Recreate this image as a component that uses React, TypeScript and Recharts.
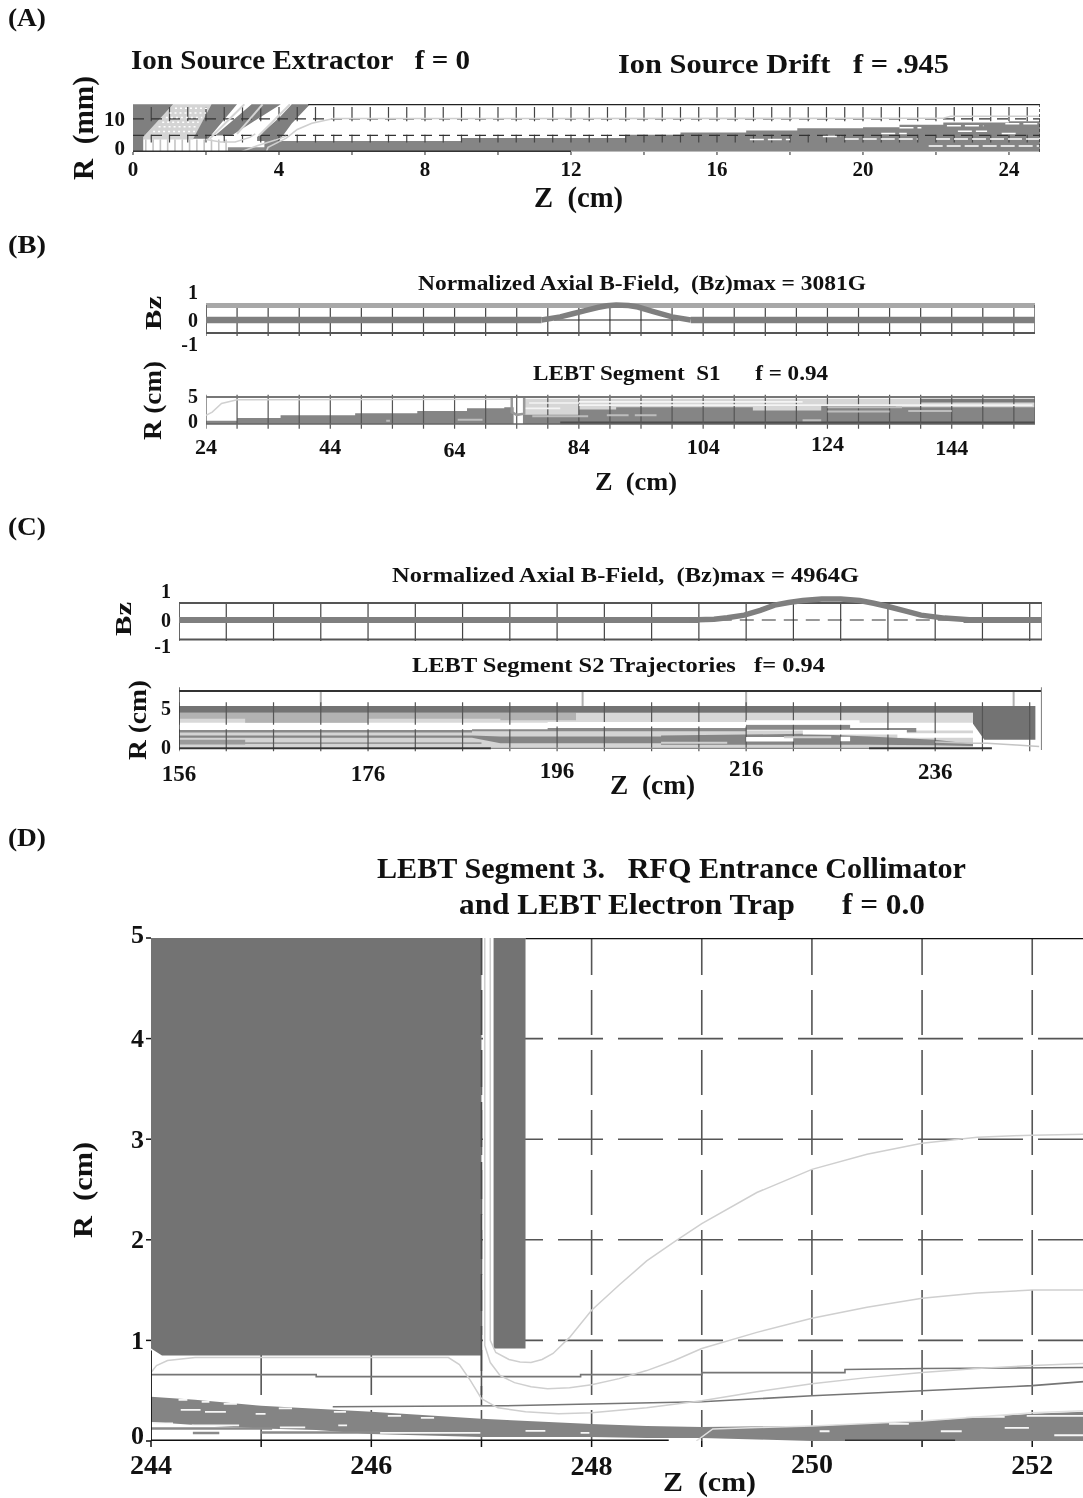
import React from "react";
import { ComposedChart, XAxis, YAxis, Area, Line, CartesianGrid } from "recharts";

const SERIF = '"Liberation Serif", "Times New Roman", serif';
type Row3 = [number, number, number];
type Pt = [number, number];

/* ---------- Panel A: Ion source ---------- */
const aZTicks = [0, 2, 4, 6, 8, 10, 12, 14, 16, 18, 20, 22, 24];
const aZLabels = [0, 4, 8, 12, 16, 20, 24];
const aRTicks = [0, 10];
const aHalfCm = [0.5, 1, 1.5, 2, 2.5, 3, 3.5, 4, 4.5, 5, 5.5, 6, 6.5, 7, 7.5, 8, 8.5, 9, 9.5, 10, 10.5, 11, 11.5, 12, 12.5, 13, 13.5, 14, 14.5, 15, 15.5, 16, 16.5, 17, 17.5, 18, 18.5, 19, 19.5, 20, 20.5, 21, 21.5, 22, 22.5, 23, 23.5, 24, 24.5];
const aGray1: Row3[] = [[0, 0, 14.4], [0.28, 0, 14.4], [0.28, 4.5, 14.4], [1.1, 14.4, 14.4]];
const aGray2: Row3[] = [[1.65, 4, 4], [2.06, 4, 12.5], [2.15, 5.2, 14.4], [2.85, 14.4, 14.4]];
const aGray3: Row3[] = [[2.25, 5, 5], [2.7, 5, 9.23], [3.25, 8.83, 14.4], [4.05, 14.4, 14.4]];
const aGray4: Row3[] = [[3.4, 3.3, 4.5], [4, 3.3, 10.3], [4.35, 8.6, 14.4], [4.85, 14.4, 14.4]];
const aMesh: Row3[] = [[0.28, 3.8, 4.5], [1.1, 3.8, 14.4], [1.65, 3.8, 14.4], [2.15, 14.4, 14.4]];
const aCore: Row3[] = [[3.6, 0, 3.3], [9, 0, 3.3], [9, 0, 4.2], [13.5, 0, 4.2], [13.5, 0, 5.2], [15, 0, 5.2], [15, 0, 5.9], [16.8, 0, 5.9], [16.8, 0, 6.5], [18.2, 0, 6.5], [18.2, 0, 7.2], [20, 0, 7.2], [20, 0, 7.5], [21, 0, 7.5], [21, 0, 8.2], [22.2, 0, 8.2], [22.2, 0, 8.9], [24, 0, 8.9], [24, 0, 9.3], [24.85, 0, 9.3]];
const aLow: Row3[] = [[2.6, 0, 1.4], [3.7, 0, 1.4]];
const aWhite: Row3[] = [[16.9, 18, 3.8], [18.9, 19.4, 4.7], [19.5, 21.5, 3.9], [22, 24.85, 3.9], [21.8, 24.85, 1.8], [21, 21.6, 7.3], [20.5, 21.2, 5.6], [22.3, 23.3, 7.9], [22.6, 23.4, 6.3], [23.8, 24.2, 5.6], [23.9, 24.85, 8.5]];
const aMeshDots: Row3[] = [[1.15, 2.05, 13.2], [1, 2, 11.8], [0.9, 1.9, 10.4], [0.8, 1.8, 9], [0.7, 1.75, 7.6], [0.55, 1.7, 6.2]];
const aComb = [0.35, 0.55, 0.75, 0.95, 1.15, 1.35, 1.55, 1.75, 1.95, 2.15, 2.35, 2.55];
const aTrajA: Pt[] = [[3.65, 0], [3.7, 1.4], [4.2, 4.2], [4.5, 6.8], [4.9, 8.7], [5.5, 10.1], [22.2, 10.2], [22.4, 10.8], [24.85, 10.8]];
const aTrajB: Pt[] = [[2.95, 0], [3.4, 1.9], [3.9, 3.6], [4.2, 4.8]];
const aTrajC: Pt[] = [[2.0, 3.8], [2.4, 3], [2.8, 3], [3.2, 4.4], [3.35, 5.5]];
const aEdgeA: Pt[] = [[2.1, 4], [3.05, 14.4]];
const aEdgeB: Pt[] = [[2.85, 5.5], [3.55, 14.4]];
const aEdgeC: Pt[] = [[3.45, 5], [4.3, 14.4]];

/* ---------- Panel B ---------- */
const bZTicks = [24, 29, 34, 39, 44, 49, 54, 59, 64, 69, 74, 79, 84, 89, 94, 99, 104, 109, 114, 119, 124, 129, 134, 139, 144, 149, 154];
const bZLabels = [24, 44, 64, 84, 104, 124, 144];
const bBzTicks = [-1, 0, 1];
const bRTicks = [0, 5];
const bBump: Pt[] = [[78, 0], [81, 0.12], [83, 0.24], [85, 0.36], [87, 0.48], [88.5, 0.55], [90, 0.58], [92, 0.56], [93.5, 0.5], [96, 0.32], [99, 0.12], [102, 0]];
const bZeroL: Pt[] = [[24, 0], [78, 0]];
const bZeroR: Pt[] = [[102, 0], [157.4, 0]];
const bGrayL: Row3[] = [[24, 0, 0.6], [29, 0, 0.6], [29, 0, 1.1], [36, 0, 1.1], [36, 0, 1.6], [48, 0, 1.6], [48, 0, 2], [58, 0, 2], [58, 0, 2.4], [66, 0, 2.4], [66, 0, 2.9], [72, 0, 2.9], [72, 0, 3.1], [73.5, 0, 3.1]];
const bGrayR: Row3[] = [[75, 0, 1.7], [84, 0, 1.7], [84, 0, 2.7], [90, 0, 2.7], [90, 0, 3.1], [112, 0, 3.1], [112, 0, 2.5], [123, 0, 2.5], [123, 0, 3.5], [135, 0, 3.5], [135, 0, 3.1], [157.4, 0, 3.1]];
const bLight: Row3[] = [[75, 1.6, 4.7], [157.4, 1.6, 4.7]];
const bDarkTop: Row3[] = [[139, 4, 4.7], [157.4, 4, 4.7]];
const bDarkBottom: Row3[] = [[81, 0, 0.45], [157.4, 0, 0.45]];
const bPale: Row3[] = [[76.5, 85.5, 1.45], [88.5, 92, 1.6], [93, 96.5, 1.6], [120, 123, 0.7], [124, 136, 3.1], [124, 134, 2.3], [137, 144, 2.4], [64.5, 68.5, 0.8], [53, 53.6, 0.6]];
const bWhite: Row3[] = [[76, 84, 3.9], [84, 157, 3.5], [84, 120, 4.1], [75, 81, 2.9]];
const bAperture: Pt[] = [[73.2, 5], [73.2, 2.2], [74, 1.7], [75.2, 1.9], [75.2, 5]];
const bEntry: Pt[] = [[24, 1.6], [25, 2.2], [26.5, 3.8], [29, 4.5], [73, 4.6]];

/* ---------- Panel C ---------- */
const cZTicks = [156, 161, 166, 171, 176, 181, 186, 191, 196, 201, 206, 211, 216, 221, 226, 231, 236, 241, 246];
const cZLabels = [156, 176, 196, 216, 236];
const cBzTicks = [-1, 0, 1];
const cRTicks = [0, 5];
const cBump: Pt[] = [[210, 0], [212.6, 0.03], [214, 0.08], [215.8, 0.18], [217.5, 0.36], [219, 0.55], [220.5, 0.65], [222, 0.72], [224, 0.78], [226, 0.78], [228, 0.72], [229.5, 0.62], [231, 0.5], [233, 0.32], [234.5, 0.18], [237, 0.07], [240, 0]];
const cZeroL: Pt[] = [[156, 0], [211, 0]];
const cZeroR: Pt[] = [[239, 0], [247.3, 0]];
const cPaleStems = [171, 198.7, 216, 244.3];
const cDarkBand: Row3[] = [[156, 4.2, 5], [240, 4.2, 5]];
const cBlock: Row3[] = [[240, 2.9, 5], [241.2, 1, 5], [246.6, 1, 5]];
const cLightUpper: Row3[] = [[156, 3, 4.2], [240, 3, 4.2]];
const cLightLower: Row3[] = [[156, 0.15, 2.1], [240, 0.15, 2.1]];
const cMidUpper: Row3[] = [[156, 3.5, 4.2], [163, 3.5, 4.2], [163, 3, 4.2], [176, 3, 4.2], [176, 3.5, 4.2], [190, 3.5, 4.2], [190, 3.3, 4.2], [198, 3.3, 4.2]];
const cBandA: Row3[] = [[156, 1.85, 2.15], [187, 1.85, 2.15], [187, 2.0, 2.4], [216, 2.0, 2.4], [216, 2.2, 2.8], [227, 2.2, 2.8], [227, 1.9, 2.4], [234, 1.9, 2.4]];
const cLineLow: Row3[] = [[156, 1.25, 1.5], [187, 1.25, 1.5], [190, 0.6, 1.4], [207, 0.6, 1.4], [207, 0.4, 1.5], [222, 0.4, 1.7], [229, 0.4, 1.4], [236, 0.35, 1], [240, 0.25, 0.5]];
const cLineMore: Row3[] = [[156, 0.45, 1], [163, 0.45, 1], [163, 0.5, 0.7], [188, 0.5, 0.7]];
const cWhite: Row3[] = [[156, 195, 2.5], [195, 216, 2.85], [216, 228, 3.05], [222, 233, 1.9], [232, 240, 1.5], [226, 227, 1.1], [216, 221, 1.05]];
const cPaleMarks: Row3[] = [[220, 225, 1.3], [207, 214, 0.65]];
const cExit: Pt[] = [[236, 0.75], [240, 0.6], [241.5, 0.6], [245, 0.35], [247, 0.2]];

/* ---------- Panel D ---------- */
const dZTicks = [244, 245, 246, 247, 248, 249, 250, 251, 252];
const dZLabels = [244, 246, 248, 250, 252];
const dRTicks = [0, 1, 2, 3, 4, 5];
const dGridZ = [245, 246, 247, 248, 249, 250, 251, 252];
const dGridR = [1, 2, 3, 4];
const dBlockA: Row3[] = [[244, 0.92, 5], [244.1, 0.85, 5], [247.0, 0.85, 5]];
const dBlockB: Row3[] = [[247.11, 0.92, 5], [247.4, 0.92, 5]];
const dBand: Row3[] = [[244, 0.19, 0.44], [244.4, 0.16, 0.41], [245, 0.125, 0.35], [245.5, 0.11, 0.32], [246, 0.07, 0.29], [247, 0.04, 0.22], [248, 0.04, 0.17], [248.5, 0.03, 0.15], [249, 0.03, 0.14], [250, 0, 0.15], [251, 0, 0.2], [252, 0, 0.27], [252.47, 0, 0.29]];
const dCurve1: Pt[] = [[244, 0.68], [244.05, 0.75], [244.15, 0.8], [244.4, 0.83], [246.7, 0.83], [246.8, 0.76], [246.9, 0.6], [247, 0.42], [247.15, 0.33], [247.4, 0.29], [247.7, 0.27], [248, 0.28], [248.5, 0.33], [249, 0.4], [249.5, 0.49], [250, 0.57], [250.5, 0.63], [251, 0.68], [251.5, 0.72], [252, 0.75], [252.47, 0.77]];
const dCurve2: Pt[] = [[247.03, 5], [247.03, 0.95], [247.08, 0.78], [247.17, 0.65], [247.3, 0.58], [247.45, 0.54], [247.6, 0.52], [247.8, 0.53], [248, 0.56], [248.25, 0.62], [248.5, 0.7], [248.75, 0.8], [249, 0.92], [249.5, 1.08], [250, 1.22], [250.5, 1.33], [251, 1.42], [251.5, 1.47], [252, 1.5], [252.47, 1.5]];
const dCurve3: Pt[] = [[247.08, 5], [247.08, 1.0], [247.13, 0.88], [247.25, 0.81], [247.35, 0.785], [247.45, 0.78], [247.55, 0.81], [247.65, 0.87], [247.8, 1.03], [248, 1.3], [248.25, 1.55], [248.5, 1.79], [248.75, 1.98], [249, 2.16], [249.5, 2.47], [250, 2.7], [250.5, 2.85], [251, 2.96], [251.5, 3.02], [252, 3.04], [252.47, 3.05]];
const dLine1: Pt[] = [[244, 0.66], [245.5, 0.66], [245.5, 0.64], [247.9, 0.64], [247.9, 0.66], [249, 0.66], [249, 0.68], [250.3, 0.68], [250.3, 0.71], [251, 0.72], [252.47, 0.73]];
const dLine2: Pt[] = [[245.65, 0.34], [247.2, 0.35], [248.1, 0.37], [249, 0.39], [250, 0.45], [251, 0.5], [252, 0.55], [252.47, 0.59]];
const dStripes: Row3[] = [[244, 245.1, 0.125], [244.38, 244.62, 0.08], [245.0, 246.1, 0.085]];
const dBeam: Pt[] = [[248.95, 0], [249.1, 0.12], [250, 0.15], [251, 0.2], [252, 0.28], [252.47, 0.3]];
const dWhite: Row3[] = [[244.27, 244.45, 0.31], [244.49, 244.68, 0.29], [244.25, 244.33, 0.41], [244.46, 244.53, 0.39], [244.66, 244.78, 0.37], [244.95, 245.04, 0.27], [245.16, 245.28, 0.325], [245.66, 245.77, 0.29], [246.15, 246.27, 0.25], [246.45, 246.57, 0.23], [245.7, 245.78, 0.156], [244.37, 244.8, 0.156], [245.17, 245.4, 0.135], [244.02, 244.2, 0.175], [246.08, 246.99, 0.08], [247.4, 247.58, 0.1], [247.9, 247.98, 0.08], [250.07, 250.16, 0.097], [250.7, 250.88, 0.17], [251.17, 251.36, 0.097], [251.75, 251.97, 0.13], [252.2, 252.47, 0.057], [251.4, 251.75, 0.24], [251.95, 252.47, 0.25]];
const dAxisDark: Pt[] = [[244, 0], [248.7, 0]];
const dAxisDarkR: Pt[] = [[250.3, 0], [251.3, 0]];
const dTopLine: Pt[] = [[247.4, 5], [252.47, 5]];
const dLeftLine: Pt[] = [[244, 0.9], [244, 0]];
const dBlockEdge: Pt[] = [[247, 5], [247, 0.35]];

/* ---------- helpers that turn the lists into series ---------- */
const pts = (rows: Pt[]) => rows.map(([z, r]) => ({ z, r }));
const band = (rows: Row3[]) => rows.map(([z, lo, hi]) => ({ z, r: [lo, hi] }));
const runs = (rows: Row3[]) => rows.flatMap(([a, b, r]) => [{ z: a, r }, { z: b, r }, { z: b, r: null }]);
const stems = (zs: number[], lo: number, hi: number) => zs.flatMap((z) => [{ z, r: hi }, { z, r: lo }, { z, r: null }]);

const fill = (key: string, data: any[], color: string) => (
  <Area key={key} data={data} dataKey="r" type="linear" stroke="none" fill={color} fillOpacity={1} dot={false} activeDot={false} isAnimationActive={false} />
);
const line = (key: string, data: any[], color: string, width = 1, dash?: string) => (
  <Line key={key} data={data} dataKey="r" type="linear" stroke={color} strokeWidth={width} strokeDasharray={dash} dot={false} activeDot={false} isAnimationActive={false} />
);

const makeTick = (size: number, opts: { show?: number[]; anchor?: "end" | "middle"; dy?: number; nudge?: Record<number, number> }) =>
  function Tick(p: any) {
    const v = p.payload.value;
    if (opts.show && !opts.show.includes(v)) return <g />;
    return (
      <text x={p.x} y={p.y + (opts.dy ?? 0) + (opts.nudge?.[v] ?? 0)} textAnchor={opts.anchor ?? "end"} dominantBaseline="central" fontFamily={SERIF} fontWeight="bold" fontSize={size} fill="#111">
        {v}
      </text>
    );
  };

const LEFT = 60, TOP = 24, RIGHT = 22, BOTTOM = 54;
function Panel({ x, y, w, h, xHidden, children }: any) {
  return (
    <div style={{ position: "absolute", left: x - LEFT, top: y - TOP }}>
      <ComposedChart width={w + LEFT + RIGHT} height={h + TOP + BOTTOM} margin={{ top: TOP, left: 0, right: RIGHT, bottom: xHidden ? BOTTOM : 0 }}>
        {children}
      </ComposedChart>
    </div>
  );
}

function T({ x, y, w, size, rot, children }: any) {
  return (
    <text x={x} y={y} textLength={w} lengthAdjust="spacingAndGlyphs" transform={rot ? `rotate(-90 ${x} ${y})` : undefined} fontFamily={SERIF} fontWeight="bold" fontSize={size} fill="#111" xmlSpace="preserve" style={{ whiteSpace: "pre" }}>
      {children}
    </text>
  );
}

const G = "#7f7f7f";
const GD = "#737373";

export default function App() {
  return (
    <div style={{ position: "absolute", left: 0, top: 0, width: 1083, height: 1498, overflow: "hidden", background: "#fff" }}>
      <div style={{ position: "absolute", left: 0, top: 0, width: 1083, height: 810, filter: "blur(0.7px)" }}>
        {/* Panel A */}
        <Panel x={133} y={104} w={907} h={48}>
          <XAxis dataKey="z" type="number" domain={[0, 24.85]} allowDataOverflow ticks={aZTicks} interval={0} height={BOTTOM} axisLine={false} tickLine={{ stroke: "#222", strokeWidth: 1 }} tickSize={3} tick={makeTick(21, { show: aZLabels, anchor: "middle", dy: 12 })} />
          <YAxis type="number" domain={[0, 14.5]} allowDataOverflow ticks={aRTicks} width={LEFT} axisLine={false} tickLine={false} tick={makeTick(21, { nudge: { 0: -4 }, dy: 0 })} />
          {line("a-v1", stems(aHalfCm, 9.3, 13.6), "#444", 1.2)}
          {line("a-v2", stems(aHalfCm, 2.9, 5.2), "#444", 1.2)}
          {line("a-h1", pts([[0, 10], [24.85, 10]]), "#333", 1.3, "11 7")}
          {line("a-h2", pts([[0, 5], [24.85, 5]]), "#333", 1.3, "11 7")}
          {fill("a-mesh", band(aMesh), "#d4d4d4")}
          {fill("a-g1", band(aGray1), G)}
          {fill("a-g2", band(aGray2), G)}
          {fill("a-g3", band(aGray3), G)}
          {fill("a-g4", band(aGray4), G)}
          {fill("a-low", band(aLow), "#8c8c8c")}
          {fill("a-core", band(aCore), "#858585")}
          {line("a-md", runs(aMeshDots), "#fff", 1.5, "2 3")}
          {line("a-comb", stems(aComb, 0, 3.8), "#c4c4c4", 1.6)}
          {line("a-ea", pts(aEdgeA), "#d4d4d4", 2)}
          {line("a-eb", pts(aEdgeB), "#d4d4d4", 2)}
          {line("a-ec", pts(aEdgeC), "#d4d4d4", 2)}
          {line("a-tc", pts(aTrajC), "#cfcfcf", 1.5)}
          {line("a-tb", pts(aTrajB), "#cfcfcf", 1.5)}
          {line("a-ta", pts(aTrajA), "#cfcfcf", 1.6)}
          {line("a-w", runs(aWhite), "#fff", 1.5, "14 4")}
          {line("a-top", pts([[4.8, 14.4], [24.85, 14.4]]), "#222", 2)}
          {line("a-base", pts([[0, 0.2], [12, 0.2]]), "#333", 1.8)}
          {line("a-base2", pts([[12, 0.1], [24.85, 0.1]]), "#bbb", 1.2)}
          {line("a-right", pts([[24.85, 0], [24.85, 14.4]]), "#333", 1.5, "3 2")}
        </Panel>

        {/* Panel B: field */}
        <Panel x={206} y={294} w={829} h={52} xHidden>
          <XAxis dataKey="z" type="number" domain={[24, 157.4]} allowDataOverflow hide />
          <YAxis type="number" domain={[-1, 1]} allowDataOverflow ticks={bBzTicks} width={LEFT} axisLine={false} tickLine={false} tick={makeTick(20, { nudge: { 1: -2, "-1": -2 } })} />
          {line("b-fv", stems(bZTicks, -0.62, 0.5), "#444", 1.2)}
          {line("b-ft", pts([[24, 0.56], [157.4, 0.56]]), "#a8a8a8", 5)}
          {line("b-fb", pts([[24, -0.5], [157.4, -0.5]]), "#555", 2.2)}
          {line("b-fl", pts([[24, -0.5], [24, 0.58]]), "#555", 1.4)}
          {line("b-fr", pts([[157.4, -0.5], [157.4, 0.58]]), "#555", 1.4)}
          {line("b-z", pts([[80, 0], [100, 0]]), "#222", 1.2)}
          {line("b-zl", pts(bZeroL), G, 6.5)}
          {line("b-zr", pts(bZeroR), G, 6.5)}
          {line("b-b", pts(bBump), G, 5.5)}
        </Panel>

        {/* Panel B: radial */}
        <Panel x={206} y={390} w={829} h={42}>
          <XAxis dataKey="z" type="number" domain={[24, 157.4]} allowDataOverflow ticks={bZTicks} interval={0} height={BOTTOM} axisLine={false} tickLine={false} tick={makeTick(22, { show: bZLabels, anchor: "middle", dy: 6, nudge: { 64: 3, 124: -3, 144: 1 } })} />
          <YAxis type="number" domain={[-1.48, 6.3]} allowDataOverflow ticks={bRTicks} width={LEFT} axisLine={false} tickLine={false} tick={makeTick(20, { nudge: { 0: -3, 5: -1 } })} />
          {line("br-v", stems(bZTicks, -0.9, 5.4), "#555", 1.2)}
          {fill("br-lt", band(bLight), "#d6d6d6")}
          {fill("br-gl", band(bGrayL), "#858585")}
          {fill("br-gr", band(bGrayR), "#858585")}
          {fill("br-dt", band(bDarkTop), "#7c7c7c")}
          {fill("br-db", band(bDarkBottom), "#4d4d4d")}
          {line("br-w", runs(bWhite), "#f4f4f4", 1.6)}
          {line("br-p", runs(bPale), "#bdbdbd", 2)}
          {line("br-e", pts(bEntry), "#d0d0d0", 1.5)}
          {line("br-a", pts(bAperture), "#999", 2.5)}
          {line("br-t", pts([[24, 5], [157.4, 5]]), "#777", 2.2)}
          {line("br-b", pts([[24, 0], [157.4, 0]]), "#666", 1.4)}
          {line("br-fr", pts([[157.4, 0], [157.4, 5]]), "#666", 1.4)}
        </Panel>

        {/* Panel C: field */}
        <Panel x={179} y={593} w={863} h={54} xHidden>
          <XAxis dataKey="z" type="number" domain={[156, 247.3]} allowDataOverflow hide />
          <YAxis type="number" domain={[-1, 1]} allowDataOverflow ticks={cBzTicks} width={LEFT} axisLine={false} tickLine={false} tick={makeTick(20, { nudge: { 1: -2, "-1": -1 } })} />
          {line("c-fv", stems(cZTicks, -0.78, 0.63), "#444", 1.2)}
          {line("c-ft", pts([[156, 0.63], [247.3, 0.63]]), "#555", 2)}
          {line("c-fb", pts([[156, -0.72], [247.3, -0.72]]), "#555", 2)}
          {line("c-fl", pts([[156, -0.72], [156, 0.63]]), "#555", 1.4)}
          {line("c-fr", pts([[247.3, -0.72], [247.3, 0.63]]), "#555", 1.4)}
          {line("c-d", pts([[213, 0], [238, 0]]), "#333", 1.2, "14 8")}
          {line("c-zl", pts(cZeroL), G, 6)}
          {line("c-zr", pts(cZeroR), G, 6)}
          {line("c-b", pts(cBump), G, 5.5)}
        </Panel>

        {/* Panel C: radial */}
        <Panel x={179} y={685} w={863} h={70}>
          <XAxis dataKey="z" type="number" domain={[156, 247.3]} allowDataOverflow ticks={cZTicks} interval={0} height={BOTTOM} axisLine={false} tickLine={false} tick={makeTick(23, { show: cZLabels, anchor: "middle", dy: 10, nudge: { 196: -3, 216: -5, 236: -2 } })} />
          <YAxis type="number" domain={[-0.8, 7.48]} allowDataOverflow ticks={cRTicks} width={LEFT} axisLine={false} tickLine={false} tick={makeTick(20, { nudge: { 0: -1, 5: 2 } })} />
          {line("cr-p", stems(cPaleStems, 5, 6.77), "#b0b0b0", 2)}
          {line("cr-v", stems(cZTicks, -0.35, 5.45), "#555", 1.2)}
          {fill("cr-lu", band(cLightUpper), "#d8d8d8")}
          {fill("cr-ll", band(cLightLower), "#d4d4d4")}
          {fill("cr-mu", band(cMidUpper), "#b2b2b2")}
          {line("cr-w", runs(cWhite), "#fff", 4.5)}
          {fill("cr-ba", band(cBandA), "#8a8a8a")}
          {fill("cr-lm", band(cLineMore), "#9a9a9a")}
          {fill("cr-ll2", band(cLineLow), "#858585")}
          {line("cr-pm", runs(cPaleMarks), "#cfcfcf", 2)}
          {fill("cr-d", band(cDarkBand), GD)}
          {fill("cr-bl", band(cBlock), GD)}
          {line("cr-e", pts(cExit), "#c4c4c4", 1.5)}
          {line("cr-t", pts([[156, 6.77], [247.3, 6.77]]), "#333", 1.8)}
          {line("cr-b", pts([[156, 0], [189, 0]]), "#333", 1.8)}
          {line("cr-b2", pts([[229, 0], [242, 0]]), "#333", 1.8)}
          {line("cr-b3", pts([[189, 0], [229, 0]]), "#888", 1.6)}
          {line("cr-l", pts([[156, -0.2], [156, 7.2]]), "#333", 1.4)}
          {line("cr-r", pts([[247.3, -0.2], [247.3, 7.2]]), "#888", 2.2)}
        </Panel>
      </div>

      {/* Panel D */}
      <div style={{ position: "absolute", left: 0, top: 810, width: 1083, height: 688, filter: "blur(0.35px)" }}>
        <div style={{ position: "absolute", left: 0, top: -810 }}>
          <Panel x={151} y={938} w={933} h={503}>
            <CartesianGrid horizontal={false} verticalValues={dGridZ} stroke="#555" strokeWidth={1.6} strokeDasharray="45 15" strokeDashoffset={8} />
            <CartesianGrid vertical={false} horizontalValues={dGridR} stroke="#555" strokeWidth={1.6} strokeDasharray="45 15" strokeDashoffset={13} />
            <XAxis dataKey="z" type="number" domain={[244, 252.47]} allowDataOverflow ticks={dZTicks} interval={0} height={BOTTOM} axisLine={false} tickLine={{ stroke: "#111", strokeWidth: 1.5 }} tickSize={6} tick={makeTick(28, { show: dZLabels, anchor: "middle", dy: 15, nudge: { 248: 1, 250: -1 } })} />
            <YAxis type="number" domain={[0, 5]} allowDataOverflow ticks={dRTicks} width={LEFT} axisLine={false} tickLine={{ stroke: "#111", strokeWidth: 1.5 }} tickSize={5} tick={makeTick(26, { nudge: { 0: -6, 5: -4 } })} />
            {fill("d-ba", band(dBlockA), GD)}
            {fill("d-bb", band(dBlockB), GD)}
            {fill("d-band", band(dBand), "#848484")}
            {line("d-edge", pts(dBlockEdge), "#4a4a4a", 1.6, "37 15 45 15")}
            {line("d-stripes", runs(dStripes), "#8a8a8a", 2.5)}
            {line("d-l1", pts(dLine1), "#757575", 1.6)}
            {line("d-l2", pts(dLine2), "#757575", 1.6)}
            {line("d-c1", pts(dCurve1), "#cfcfcf", 1.5)}
            {line("d-c2", pts(dCurve2), "#cfcfcf", 1.5)}
            {line("d-c3", pts(dCurve3), "#cfcfcf", 1.5)}
            {line("d-w", runs(dWhite), "#f6f6f6", 1.8)}
            {line("d-beam", pts(dBeam), "#e0e0e0", 1.5)}
            {line("d-top", pts(dTopLine), "#111", 2.6)}
            {line("d-ax", pts(dAxisDark), "#111", 3)}
            {line("d-ax2", pts(dAxisDarkR), "#333", 3)}
            {line("d-left", pts(dLeftLine), "#111", 1.8)}
          </Panel>
        </div>
      </div>

      <svg width={1083} height={1498} style={{ position: "absolute", left: 0, top: 0, pointerEvents: "none" }}>
        <g style={{ filter: "blur(0.4px)" }}>
          <T x={8} y={26} w={38} size={25}>(A)</T>
          <T x={131} y={69} w={339} size={28}>Ion Source Extractor   f = 0</T>
          <T x={618} y={73} w={331} size={28}>Ion Source Drift   f = .945</T>
          <T x={93} y={180} w={104} size={30} rot>R  (mm)</T>
          <T x={534} y={207} w={89} size={30}>Z  (cm)</T>
          <T x={8} y={253} w={38} size={25}>(B)</T>
          <T x={418} y={290} w={448} size={21}>Normalized Axial B-Field,  (Bz)max = 3081G</T>
          <T x={161} y={330} w={34} size={23} rot>Bz</T>
          <T x={533} y={380} w={295} size={21}>LEBT Segment  S1      f = 0.94</T>
          <T x={161} y={440} w={79} size={25} rot>R (cm)</T>
          <T x={595} y={490} w={82} size={26}>Z  (cm)</T>
          <T x={8} y={535} w={38} size={25}>(C)</T>
          <T x={392} y={582} w={467} size={22}>Normalized Axial B-Field,  (Bz)max = 4964G</T>
          <T x={131} y={636} w={34} size={23} rot>Bz</T>
          <T x={412} y={672} w={413} size={21}>LEBT Segment S2 Trajectories   f= 0.94</T>
          <T x={146} y={760} w={80} size={25} rot>R (cm)</T>
          <T x={610} y={794} w={85} size={27}>Z  (cm)</T>
          <T x={8} y={846} w={38} size={25}>(D)</T>
          <T x={377} y={878} w={589} size={30}>LEBT Segment 3.   RFQ Entrance Collimator</T>
          <T x={459} y={914} w={466} size={30}>and LEBT Electron Trap      f = 0.0</T>
          <T x={92} y={1238} w={96} size={28} rot>R  (cm)</T>
          <T x={663} y={1491} w={93} size={28}>Z  (cm)</T>
        </g>
      </svg>
    </div>
  );
}
